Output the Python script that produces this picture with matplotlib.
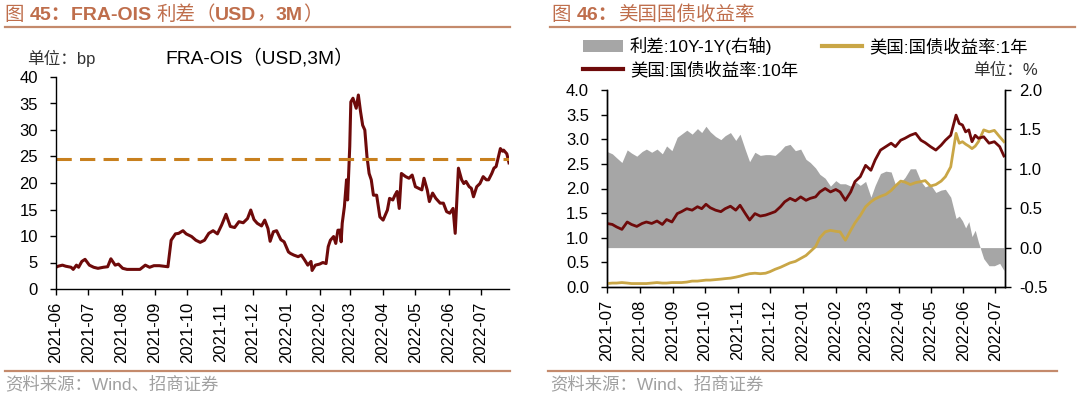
import matplotlib
matplotlib.use("Agg")
import matplotlib.pyplot as plt
import matplotlib.dates as mdates
import matplotlib.ticker as mticker
from matplotlib.lines import Line2D
from matplotlib.patches import Patch
import pandas as pd

plt.rcParams['font.family'] = ['Liberation Sans', 'Noto Sans CJK SC']
plt.rcParams['axes.unicode_minus'] = False

# ---------------- data: left chart (FRA-OIS, bp) ----------------
fra_dates = [
    "2021-06-01", "2021-06-03", "2021-06-07", "2021-06-10", "2021-06-15", "2021-06-17", "2021-06-20",
    "2021-06-22", "2021-06-25", "2021-06-28", "2021-07-02", "2021-07-06", "2021-07-10", "2021-07-15",
    "2021-07-19", "2021-07-22", "2021-07-26", "2021-07-29", "2021-08-02", "2021-08-06", "2021-08-12",
    "2021-08-18", "2021-08-23", "2021-08-27", "2021-08-31", "2021-09-05", "2021-09-09", "2021-09-13",
    "2021-09-16", "2021-09-20", "2021-09-23", "2021-09-27", "2021-09-30", "2021-10-05", "2021-10-09",
    "2021-10-13", "2021-10-17", "2021-10-21", "2021-10-25", "2021-10-29", "2021-11-02", "2021-11-06",
    "2021-11-10", "2021-11-14", "2021-11-18", "2021-11-22", "2021-11-26", "2021-11-29", "2021-12-02",
    "2021-12-05", "2021-12-09", "2021-12-12", "2021-12-15", "2021-12-17", "2021-12-20", "2021-12-23",
    "2021-12-27", "2021-12-30", "2022-01-03", "2022-01-05", "2022-01-08", "2022-01-12", "2022-01-15",
    "2022-01-18", "2022-01-21", "2022-01-24", "2022-01-25", "2022-01-28", "2022-02-01", "2022-02-04",
    "2022-02-07", "2022-02-09", "2022-02-11", "2022-02-14", "2022-02-16", "2022-02-18", "2022-02-20",
    "2022-02-21", "2022-02-22", "2022-02-24", "2022-02-26", "2022-02-27", "2022-03-01", "2022-03-02",
    "2022-03-04", "2022-03-07", "2022-03-09", "2022-03-11", "2022-03-13", "2022-03-15", "2022-03-17",
    "2022-03-19", "2022-03-21", "2022-03-23", "2022-03-26", "2022-03-29", "2022-04-01", "2022-04-05",
    "2022-04-07", "2022-04-10", "2022-04-12", "2022-04-14", "2022-04-16", "2022-04-18", "2022-04-22",
    "2022-04-25", "2022-04-28", "2022-05-01", "2022-05-04", "2022-05-07", "2022-05-09", "2022-05-12",
    "2022-05-14", "2022-05-17", "2022-05-20", "2022-05-24", "2022-05-27", "2022-05-30", "2022-06-02",
    "2022-06-05", "2022-06-07", "2022-06-09", "2022-06-10", "2022-06-13", "2022-06-15", "2022-06-17",
    "2022-06-20", "2022-06-22", "2022-06-24", "2022-06-27", "2022-06-30", "2022-07-03", "2022-07-06",
    "2022-07-08", "2022-07-11", "2022-07-13", "2022-07-15", "2022-07-19", "2022-07-21", "2022-07-22",
    "2022-07-25", "2022-07-27",
]
fra_ois = [
    4.1, 4.3, 4.5, 4.3, 4.1, 3.7, 4.5,
    4.1, 5.2, 5.6, 4.5, 4.1, 3.9, 4.1,
    4.2, 5.7, 4.5, 4.7, 3.9, 3.7, 3.7,
    3.7, 4.5, 4.1, 4.4, 4.4, 4.3, 4.2,
    9.2, 10.4, 10.5, 11.0, 10.4, 9.9, 9.2,
    8.8, 9.2, 10.5, 11.0, 10.4, 12.1, 14.1,
    11.8, 11.6, 12.7, 12.5, 13.3, 14.9, 13.1,
    12.4, 11.9, 13.0, 11.4, 9.0, 10.8, 11.0,
    9.3, 8.9, 7.0, 6.7, 6.4, 6.1, 6.4,
    5.5, 4.5, 5.2, 3.5, 4.5, 4.7, 5.0,
    4.8, 8.0, 9.2, 9.9, 8.6, 11.1, 11.1,
    8.9, 12.4, 15.5, 20.6, 16.8, 26.9, 35.3,
    36.0, 34.1, 36.6, 33.5, 30.9, 30.0, 25.0,
    21.8, 20.6, 17.7, 17.7, 13.6, 13.0, 14.9,
    17.1, 16.8, 17.7, 18.4, 15.2, 21.8, 21.2,
    20.9, 21.5, 19.3, 19.0, 18.7, 20.9, 18.7,
    16.5, 18.1, 17.1, 16.2, 16.2, 14.6, 14.3,
    15.2, 10.5, 18.7, 22.8, 20.6, 19.9, 20.3,
    19.3, 19.0, 17.4, 19.3, 19.9, 21.2, 20.6,
    20.6, 21.8, 22.8, 23.1, 26.5, 26.0, 26.2,
    25.5, 23.8,
]
fra_ref_level = 24.5

# ---------------- data: right chart (US treasury yields, %) ----------------
ust_dates = [
    "2021-07-01", "2021-07-06", "2021-07-10", "2021-07-15", "2021-07-20", "2021-07-24", "2021-07-29",
    "2021-08-03", "2021-08-07", "2021-08-12", "2021-08-17", "2021-08-22", "2021-08-26", "2021-08-31",
    "2021-09-05", "2021-09-09", "2021-09-14", "2021-09-19", "2021-09-24", "2021-09-28",
    "2021-10-02", "2021-10-06", "2021-10-11", "2021-10-16", "2021-10-20", "2021-10-25", "2021-10-30",
    "2021-11-03", "2021-11-08", "2021-11-12", "2021-11-17", "2021-11-22", "2021-11-27", "2021-12-01",
    "2021-12-06", "2021-12-11", "2021-12-15", "2021-12-20", "2021-12-25", "2021-12-30",
    "2022-01-04", "2022-01-08", "2022-01-13", "2022-01-17", "2022-01-22", "2022-01-27", "2022-02-01",
    "2022-02-05", "2022-02-10", "2022-02-15",
    "2022-02-19", "2022-02-24", "2022-03-01", "2022-03-06", "2022-03-10", "2022-03-15", "2022-03-20",
    "2022-03-25", "2022-03-29", "2022-04-03",
    "2022-04-07", "2022-04-12", "2022-04-17", "2022-04-22", "2022-04-26", "2022-05-01", "2022-05-06",
    "2022-05-11", "2022-05-15", "2022-05-20",
    "2022-05-25", "2022-05-28", "2022-05-31", "2022-06-03", "2022-06-06", "2022-06-09", "2022-06-12",
    "2022-06-15", "2022-06-20", "2022-06-25", "2022-06-30", "2022-07-05", "2022-07-09",
]
ust_10y = [
    1.29, 1.27, 1.22, 1.17, 1.32, 1.27, 1.23, 1.29, 1.32, 1.29, 1.34, 1.27, 1.37, 1.32,
    1.49, 1.53, 1.59, 1.56, 1.63, 1.59,
    1.68, 1.61, 1.56, 1.53, 1.59, 1.64, 1.56, 1.66, 1.49, 1.36, 1.49, 1.44, 1.46, 1.49,
    1.53, 1.63, 1.73, 1.80, 1.75, 1.83,
    1.76, 1.80, 1.83, 1.93, 2.00, 1.93, 1.98, 1.93, 1.76, 1.93,
    2.14, 2.24, 2.47, 2.37, 2.58, 2.78, 2.85, 2.92, 2.85, 2.98,
    3.02, 3.08, 3.12, 2.98, 2.93, 2.85, 2.78, 2.88, 2.98, 3.08,
    3.49, 3.32, 3.29, 3.15, 3.19, 2.95, 3.08, 3.02, 3.05, 2.92, 2.95, 2.85, 2.66,
]
ust_1y = [
    0.07, 0.08, 0.08, 0.09, 0.08, 0.07, 0.07, 0.07, 0.07, 0.08, 0.09, 0.08, 0.08, 0.09,
    0.09, 0.09, 0.10, 0.12, 0.12, 0.13,
    0.14, 0.14, 0.15, 0.16, 0.17, 0.18, 0.20, 0.22, 0.25, 0.27, 0.28, 0.27, 0.28, 0.31,
    0.36, 0.40, 0.44, 0.49, 0.52, 0.58,
    0.64, 0.72, 0.82, 1.00, 1.12, 1.15, 1.13, 1.12, 0.95, 1.15,
    1.30, 1.45, 1.63, 1.73, 1.79, 1.84, 1.88, 1.96, 2.05, 2.15,
    2.13, 2.08, 2.12, 2.14, 2.16, 2.05, 2.08, 2.15, 2.24, 2.44,
    3.12, 2.92, 2.95, 2.90, 2.86, 2.81, 2.86, 2.95, 3.19, 3.15, 3.18, 3.05, 2.95,
]

# ---------------- styling ----------------
W, H = 1080, 397
C_TITLE = "#BF6E4C"
C_RULE = "#C48A6C"
C_DARKRED = "#6E0A0A"
C_DASH = "#C8801E"
C_GOLD = "#C9A646"
C_GRAY = "#A6A6A6"
C_SRC = "#A0A0A0"
TICK_FS = 12


def fx(x):
    return x / W


def fy(y):
    return 1 - y / H


fig = plt.figure(figsize=(W / 100, H / 100), dpi=100)


def seg_text(x, y, segments, size, color):
    renderer = fig.canvas.get_renderer()
    cx = fx(x)
    for s, weight in segments:
        t = fig.text(cx, fy(y), s, fontsize=size, fontweight=weight, color=color,
                     ha='left', va='center')
        bb = t.get_window_extent(renderer=renderer)
        cx += bb.width / W


def rule(x0, x1, y):
    fig.add_artist(Line2D([fx(x0), fx(x1)], [fy(y), fy(y)], color=C_RULE, lw=1.6,
                          transform=fig.transFigure))


# titles
seg_text(5, 15, [("图 ", "normal"), ("45：", "bold"), ("FRA-OIS ", "bold"), ("利差", "normal"),
                 ("（", "normal"), ("USD", "bold"), ("，", "normal"), ("3M", "bold"), ("）", "normal")],
         14, C_TITLE)
seg_text(552, 15, [("图 ", "normal"), ("46：", "bold"), ("美国国债收益率", "normal")], 14, C_TITLE)
rule(5, 510, 27)
rule(550, 1075, 27)
rule(5, 510, 371)
rule(548, 1057, 371)
fig.text(fx(5), fy(384), "资料来源：Wind、招商证券", fontsize=12.5, color=C_SRC, ha='left', va='center')
fig.text(fx(550), fy(384), "资料来源：Wind、招商证券", fontsize=12.5, color=C_SRC, ha='left', va='center')


def style_axis(ax):
    ax.tick_params(axis='both', direction='out', length=4, width=1, labelsize=TICK_FS, colors='black')
    ax.tick_params(axis='y', pad=9)
    ax.tick_params(axis='x', pad=5)
    ax.xaxis.set_major_locator(mdates.MonthLocator())
    ax.xaxis.set_major_formatter(mdates.DateFormatter('%Y-%m'))
    for lbl in ax.get_xticklabels():
        lbl.set_rotation(90)


# ---------------- left chart ----------------
ax1 = fig.add_axes([fx(56), fy(289), fx(509) - fx(56), fy(77) - fy(289)])
d1 = pd.to_datetime(fra_dates)
ax1.plot(d1, fra_ois, color=C_DARKRED, lw=2.2, solid_joinstyle='round')
ax1.axhline(fra_ref_level, color=C_DASH, lw=2.2, dashes=(5, 2.7))
ax1.set_ylim(0, 40)
ax1.set_yticks(range(0, 41, 5))
ax1.set_xlim(pd.Timestamp("2021-06-01"), pd.Timestamp("2022-07-27"))
for s in ("top", "right"):
    ax1.spines[s].set_visible(False)
for s in ("left", "bottom"):
    ax1.spines[s].set_linewidth(1.0)
style_axis(ax1)
fig.text(fx(27), fy(58), "单位：bp", fontsize=12, color="#333333", ha='left', va='center')
fig.text(fx(165), fy(58), "FRA-OIS（USD,3M）", fontsize=13.8, color="black", ha='left', va='center')

# ---------------- right chart ----------------
axL = fig.add_axes([fx(607), fy(287), fx(1005) - fx(607), fy(90) - fy(287)])
axR = axL.twinx()
d2 = pd.to_datetime(ust_dates)
spread = [a - b for a, b in zip(ust_10y, ust_1y)]
axR.fill_between(d2, 0, spread, color=C_GRAY, lw=0)
axR.set_ylim(-0.5, 2.0)
axR.set_yticks([-0.5, 0.0, 0.5, 1.0, 1.5, 2.0])
axR.yaxis.set_major_formatter(mticker.FormatStrFormatter('%.1f'))
axL.set_zorder(axR.get_zorder() + 1)
axL.patch.set_visible(False)
axL.plot(d2, ust_1y, color=C_GOLD, lw=2.0)
axL.plot(d2, ust_10y, color=C_DARKRED, lw=2.0)
axL.set_ylim(0, 4.0)
axL.set_yticks([0, 0.5, 1, 1.5, 2, 2.5, 3, 3.5, 4])
axL.yaxis.set_major_formatter(mticker.FormatStrFormatter('%.1f'))
axL.set_xlim(pd.Timestamp("2021-07-01"), pd.Timestamp("2022-07-10"))
for ax in (axL, axR):
    ax.spines["top"].set_visible(False)
    for s in ("left", "right", "bottom"):
        ax.spines[s].set_linewidth(1.0)
style_axis(axL)
axR.tick_params(axis='y', direction='out', length=4, width=1, labelsize=TICK_FS, pad=6)

handles = [Patch(facecolor=C_GRAY, edgecolor='none'),
           Line2D([], [], color=C_DARKRED, lw=3),
           Line2D([], [], color=C_GOLD, lw=3)]
labels = ["利差:10Y-1Y(右轴)", "美国:国债收益率:10年", "美国:国债收益率:1年"]
fig.legend(handles, labels, ncol=2, loc='upper left', bbox_to_anchor=(fx(583), fy(37)),
           frameon=False, fontsize=12.5, handlelength=2.3, handletextpad=0.4,
           columnspacing=1.4, labelspacing=0.35, borderpad=0, borderaxespad=0)
fig.text(fx(1038), fy(70), "单位：%", fontsize=12, color="#333333", ha='right', va='center')

fig.savefig("out.png", dpi=100)
